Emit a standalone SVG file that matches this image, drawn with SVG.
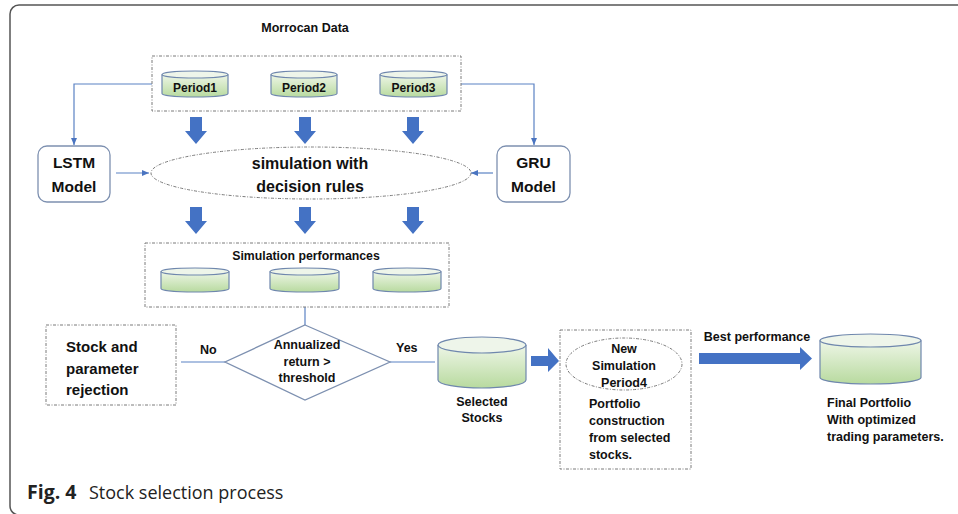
<svg xmlns="http://www.w3.org/2000/svg" width="958" height="514" viewBox="0 0 958 514">
<style>
.t{font-family:"Liberation Sans",Arial,sans-serif;font-weight:bold;fill:#111;}
.c{text-anchor:middle;}
.dash{fill:none;stroke:#7a7a7a;stroke-width:1;stroke-dasharray:3 1.5 1 1.5;}
.rbox{fill:#fff;stroke:#7d90b0;stroke-width:1.3;}
.conn{fill:none;stroke:#5b82c4;stroke-width:1.2;}
.cylb{fill:url(#gg);stroke:#6f87ad;stroke-width:1.2;}
.cylt{fill:#eef5ea;stroke:#6f87ad;stroke-width:1.2;}
.blk{fill:#4472c4;}
</style>
<defs>
<linearGradient id="gg" x1="0" y1="0" x2="0" y2="1">
<stop offset="0" stop-color="#eef6e7"/>
<stop offset="1" stop-color="#b8da9f"/>
</linearGradient>
<marker id="ah" markerWidth="8" markerHeight="8" refX="7" refY="4" orient="auto" markerUnits="userSpaceOnUse">
<path d="M0,1 L7,4 L0,7 Z" fill="#4a74c0"/>
</marker>
<path id="dArrow" d="M-6,0 H6 V14 H11 L0,27 L-11,14 H-6 Z"/>
</defs>
<rect width="958" height="514" fill="#fff"/>
<rect x="10" y="5" width="970" height="510" rx="9" fill="none" stroke="#555" stroke-width="1.5"/>

<text class="t c" x="305" y="32" font-size="12.5">Morrocan Data</text>

<g id="connectors">
<path class="conn" d="M152,84 H74 V145" marker-end="url(#ah)"/>
<path class="conn" d="M461,84 H534 V145" marker-end="url(#ah)"/>
<path class="conn" d="M116,173 H149" marker-end="url(#ah)"/>
<path class="conn" d="M493,173 H471" marker-end="url(#ah)"/>
<path class="conn" d="M305,307 V325"/>
<path class="conn" d="M181,362 H225"/>
<path class="conn" d="M390,362 H435"/>
<use href="#dArrow" class="blk" x="196" y="117"/>
<use href="#dArrow" class="blk" x="305" y="117"/>
<use href="#dArrow" class="blk" x="413" y="117"/>
<use href="#dArrow" class="blk" x="196" y="207"/>
<use href="#dArrow" class="blk" x="305" y="207"/>
<use href="#dArrow" class="blk" x="413" y="207"/>
<path class="blk" d="M531,356 H548 V348 L559,361 L548,372 V366 H531 Z"/>
<path class="blk" d="M699,353 H800 V347 L812,358.5 L800,370 V364 H699 Z"/>
<text class="t" x="200" y="354" font-size="12.5">No</text>
<text class="t" x="396" y="352" font-size="12.5">Yes</text>
<text class="t c" x="757" y="341" font-size="12.5">Best performance</text>
</g>

<g id="morrocan-data">
<rect class="dash" x="152" y="56" width="309" height="55"/>
<g id="period1">
<path class="cylb" d="M162,74.5 V93.5 A33,3.5 0 0 0 228,93.5 V74.5"/>
<ellipse class="cylt" cx="195" cy="74.5" rx="33" ry="3.5"/>
<text class="t c" x="195" y="92" font-size="12">Period1</text>
</g>
<g id="period2">
<path class="cylb" d="M271,74.5 V93.5 A33,3.5 0 0 0 337,93.5 V74.5"/>
<ellipse class="cylt" cx="304" cy="74.5" rx="33" ry="3.5"/>
<text class="t c" x="304" y="92" font-size="12">Period2</text>
</g>
<g id="period3">
<path class="cylb" d="M380,74.5 V93.5 A33.5,3.5 0 0 0 447,93.5 V74.5"/>
<ellipse class="cylt" cx="413.5" cy="74.5" rx="33.5" ry="3.5"/>
<text class="t c" x="413.5" y="92" font-size="12">Period3</text>
</g>
</g>

<g id="lstm">
<rect class="rbox" x="38" y="146" width="72" height="56" rx="9"/>
<text class="t c" x="74" y="168" font-size="15.5">LSTM</text>
<text class="t c" x="74" y="192" font-size="15.5">Model</text>
</g>
<g id="gru">
<rect class="rbox" x="497" y="146" width="73" height="56" rx="9"/>
<text class="t c" x="533.5" y="168" font-size="15.5">GRU</text>
<text class="t c" x="533.5" y="192" font-size="15.5">Model</text>
</g>

<g id="simulation">
<ellipse class="dash" cx="311" cy="173" rx="160" ry="26"/>
<text class="t c" x="310" y="169" font-size="16">simulation with</text>
<text class="t c" x="310" y="192" font-size="16">decision rules</text>
</g>

<g id="sim-performances">
<rect class="dash" x="145" y="243" width="304" height="64"/>
<text class="t c" x="306" y="260" font-size="12.3">Simulation performances</text>
<path class="cylb" d="M161,271.5 V288.5 A34,3.5 0 0 0 229,288.5 V271.5"/>
<ellipse class="cylt" cx="195" cy="271.5" rx="34" ry="3.5"/>
<path class="cylb" d="M270,271.5 V288.5 A34.5,3.5 0 0 0 339,288.5 V271.5"/>
<ellipse class="cylt" cx="304.5" cy="271.5" rx="34.5" ry="3.5"/>
<path class="cylb" d="M373,271.5 V288.5 A34,3.5 0 0 0 441,288.5 V271.5"/>
<ellipse class="cylt" cx="407" cy="271.5" rx="34" ry="3.5"/>
</g>

<g id="decision">
<path d="M305,325 L390,362 L305,400 L225,362 Z" fill="#fff" stroke="#7d90b0" stroke-width="1.3"/>
<text class="t c" x="307" y="349" font-size="12.5">Annualized</text>
<text class="t c" x="307" y="366" font-size="12.5">return &gt;</text>
<text class="t c" x="307" y="382" font-size="12.5">threshold</text>
</g>

<g id="rejection">
<rect class="dash" x="46" y="325" width="130" height="80"/>
<text class="t" x="66" y="352" font-size="15">Stock and</text>
<text class="t" x="66" y="374" font-size="15">parameter</text>
<text class="t" x="66" y="395" font-size="15">rejection</text>
</g>

<g id="selected-stocks">
<path class="cylb" d="M438,345 V380 A44,8 0 0 0 526,380 V345"/>
<ellipse class="cylt" cx="482" cy="345" rx="44" ry="8"/>
<text class="t c" x="482" y="406" font-size="12.5">Selected</text>
<text class="t c" x="482" y="422" font-size="12.5">Stocks</text>
</g>

<g id="new-simulation">
<rect class="dash" x="560" y="330" width="131" height="139"/>
<ellipse class="dash" cx="624" cy="364" rx="58" ry="26"/>
<text class="t c" x="624" y="353" font-size="12.5">New</text>
<text class="t c" x="624" y="370" font-size="12.5">Simulation</text>
<text class="t c" x="624" y="387" font-size="12.5">Period4</text>
<text class="t" x="589" y="408" font-size="12.5">Portfolio</text>
<text class="t" x="589" y="425" font-size="12.5">construction</text>
<text class="t" x="589" y="442" font-size="12.5">from selected</text>
<text class="t" x="589" y="459" font-size="12.5">stocks.</text>
</g>

<g id="final-portfolio">
<path class="cylb" d="M820,340.5 V377.5 A50.5,6.5 0 0 0 921,377.5 V340.5"/>
<ellipse class="cylt" cx="870.5" cy="340.5" rx="50.5" ry="6.5"/>
<text class="t" x="827" y="407" font-size="12.5">Final Portfolio</text>
<text class="t" x="827" y="424" font-size="12.5">With optimized</text>
<text class="t" x="827" y="441" font-size="12.5">trading parameters.</text>
</g>

<g id="caption">
<text x="27" y="499" font-family="'Open Sans','Noto Sans',sans-serif" font-weight="bold" font-size="19.5" fill="#222">Fig. 4</text>
<text x="89" y="499" font-family="'Open Sans','Noto Sans',sans-serif" font-size="18" fill="#222">Stock selection process</text>
</g>
</svg>
